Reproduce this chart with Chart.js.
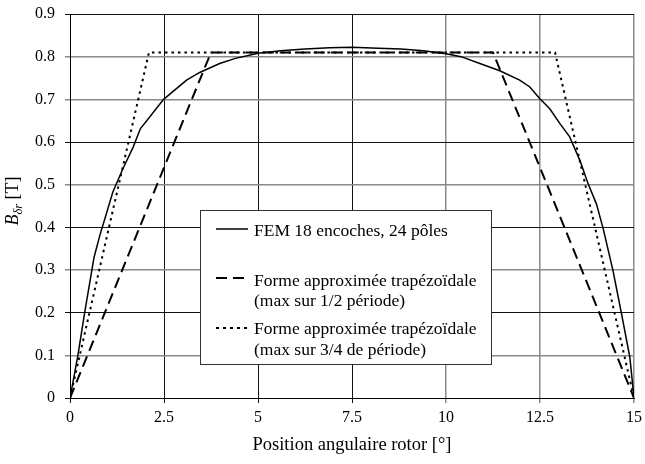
<!DOCTYPE html>
<html><head><meta charset="utf-8">
<script src="https://cdn.jsdelivr.net/npm/chart.js@4.4.0/dist/chart.umd.min.js"></script>
<style>html,body{margin:0;padding:0;background:#fff;}#wrap{width:645px;height:464px;}</style>
</head><body><div id="wrap"><canvas id="c" width="645" height="464"></canvas></div>
<script>
// FEM curve (angle in degrees, B in tesla)
const femX = [0, 0.21, 0.39, 0.64, 0.79, 1.14, 1.41, 1.68, 1.87, 2.49, 3.10, 3.45, 3.98, 4.4, 5.0, 5.6, 6.25, 6.9, 7.5, 8.2, 8.8, 9.4, 10.0, 10.4, 10.9, 11.43, 11.96, 12.23, 12.49, 12.76, 13.03, 13.29, 13.56, 13.78, 14.0, 14.18, 14.44, 14.66, 14.89, 15];
const femY = [0, 0.10, 0.20, 0.33, 0.38, 0.483, 0.538, 0.588, 0.631, 0.70, 0.745, 0.763, 0.784, 0.796, 0.808, 0.814, 0.818, 0.821, 0.822, 0.82, 0.818, 0.814, 0.807, 0.80, 0.784, 0.767, 0.745, 0.729, 0.702, 0.678, 0.643, 0.612, 0.557, 0.502, 0.455, 0.397, 0.299, 0.201, 0.095, 0];
// Trapezoid, max over 1/2 period
const trapHalfX = [0, 3.75, 11.25, 15];
const trapHalfY = [0, 0.81, 0.81, 0];
// Trapezoid, max over 3/4 period
const trapThreeQX = [0, 2.1, 12.9, 15];
const trapThreeQY = [0, 0.81, 0.81, 0];
const xTickLabels = ['0', '2.5', '5', '7.5', '10', '12.5', '15'];
const yTickLabels = ['0', '0.1', '0.2', '0.3', '0.4', '0.5', '0.6', '0.7', '0.8', '0.9'];
const legendFem = ['FEM 18 encoches, 24 pôles'];
const legendHalf = ['Forme approximée trapézoïdale', '(max sur 1/2 période)'];
const legendThreeQ = ['Forme approximée trapézoïdale', '(max sur 3/4 de période)'];
const xTitle = 'Position angulaire rotor [°]';

const FONT = "'Liberation Serif', 'Times New Roman', serif";
const toPts = (xs, ys) => xs.map((x, i) => ({x: x, y: ys[i]}));

const grayY = [0.1, 0.3, 0.5, 0.7, 0.8];
const grayX = [10, 12.5, 15];
const isIn = (arr, v) => arr.some(a => Math.abs(a - v) < 1e-6);

const yTitlePlugin = {
  id: 'yTitle',
  afterDraw(chart) {
    const ctx = chart.ctx, a = chart.chartArea;
    ctx.save();
    const fB = "italic 18px " + FONT, fS = "italic 12.5px " + FONT, fN = "18px " + FONT;
    ctx.font = fB; const wB = ctx.measureText('B').width;
    ctx.font = fS; const wS = ctx.measureText('δr').width;
    ctx.font = fN; const wT = ctx.measureText(' [T]').width;
    const total = wB + wS + wT;
    ctx.translate(18, (a.top + a.bottom) / 2 - 5);
    ctx.rotate(-Math.PI / 2);
    ctx.fillStyle = '#000';
    ctx.textBaseline = 'alphabetic';
    ctx.textAlign = 'left';
    let x = -total / 2;
    ctx.font = fB; ctx.fillText('B', x, 0); x += wB;
    ctx.font = fS; ctx.fillText('δr', x, 4); x += wS;
    ctx.font = fN; ctx.fillText(' [T]', x, 0);
    ctx.restore();
  }
};

const legendPlugin = {
  id: 'boxLegend',
  afterDatasetsDraw(chart) {
    const ctx = chart.ctx, a = chart.chartArea;
    const L = a.left + 130, T = a.top + 196, R = a.left + 421, B = a.top + 350;
    ctx.save();
    ctx.fillStyle = '#fff';
    ctx.fillRect(L, T, R - L, B - T);
    ctx.strokeStyle = '#333';
    ctx.lineWidth = 1;
    ctx.strokeRect(L + 0.5, T + 0.5, R - L, B - T);
    const sx0 = L + 16, sx1 = L + 48, tx = L + 54;
    const sample = (y, dash, w) => {
      ctx.beginPath(); ctx.setLineDash(dash); ctx.lineWidth = w; ctx.strokeStyle = '#000';
      ctx.moveTo(sx0, y); ctx.lineTo(sx1, y); ctx.stroke();
    };
    sample(T + 19, [], 1.5);
    sample(T + 68, [11, 6], 2);
    sample(T + 118, [3, 4], 2);
    ctx.setLineDash([]);
    ctx.fillStyle = '#000';
    ctx.font = "17.5px " + FONT;
    ctx.textBaseline = 'alphabetic';
    ctx.fillText(legendFem[0], tx, T + 26);
    ctx.fillText(legendHalf[0], tx, T + 76);
    ctx.fillText(legendHalf[1], tx, T + 96);
    ctx.fillText(legendThreeQ[0], tx, T + 124);
    ctx.fillText(legendThreeQ[1], tx, T + 145);
    ctx.restore();
  }
};

new Chart(document.getElementById('c'), {
  type: 'scatter',
  data: {
    datasets: [
      {label: legendFem[0], data: toPts(femX, femY), showLine: true, borderColor: '#000', borderWidth: 1.5, pointRadius: 0, tension: 0},
      {label: legendHalf.join(' '), data: toPts(trapHalfX, trapHalfY), showLine: true, borderColor: '#000', borderWidth: 2, borderDash: [11, 6], pointRadius: 0},
      {label: legendThreeQ.join(' '), data: toPts(trapThreeQX, trapThreeQY), showLine: true, borderColor: '#000', borderWidth: 2, borderDash: [2.5, 4], pointRadius: 0}
    ]
  },
  options: {
    responsive: false,
    devicePixelRatio: 1,
    animation: false,
    layout: {padding: {top: 14, right: 11, left: 0, bottom: 0}},
    plugins: {legend: {display: false}, tooltip: {enabled: false}},
    scales: {
      x: {
        type: 'linear', min: 0, max: 15,
        afterFit: s => { s.height = 66; s.paddingLeft = 0; s.paddingRight = 0; },
        ticks: {stepSize: 2.5, callback: (v, i) => xTickLabels[i], color: '#000', font: {family: FONT, size: 16}, padding: 5, maxRotation: 0, autoSkip: false},
        grid: {
          tickLength: 5,
          color: c => (c.tick && isIn(grayX, c.tick.value)) ? '#8a8a8a' : '#111',
          lineWidth: c => (c.tick && isIn(grayX, c.tick.value)) ? 1.5 : 1
        },
        border: {display: true, color: '#000', width: 1},
        title: {display: true, text: xTitle, color: '#000', font: {family: FONT, size: 18.5}, padding: {top: 0, bottom: 8}}
      },
      y: {
        type: 'linear', min: 0, max: 0.9,
        afterFit: s => { s.width = 70; s.paddingTop = 0; s.paddingBottom = 0; },
        ticks: {stepSize: 0.1, callback: (v, i) => yTickLabels[i], color: '#000', font: {family: FONT, size: 16}, padding: 10, autoSkip: false},
        grid: {
          tickLength: 5,
          color: c => (c.tick && isIn(grayY, c.tick.value)) ? '#8a8a8a' : '#111',
          lineWidth: c => (c.tick && isIn(grayY, c.tick.value)) ? 1.5 : 1
        },
        border: {display: true, color: '#000', width: 1}
      }
    }
  },
  plugins: [yTitlePlugin, legendPlugin]
});
</script>
</body></html>
